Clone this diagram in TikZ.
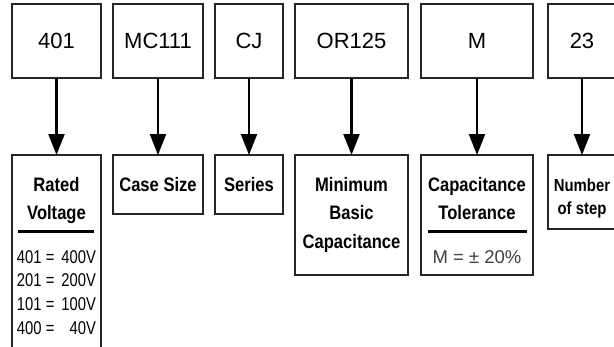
\documentclass[tikz,border=0pt]{standalone}
\usepackage{fontspec}
\setmainfont{Liberation Sans}
\newfontfamily\narrowfont[FakeStretch=0.85]{Liberation Sans}
\newfontfamily\valfamily[FakeStretch=0.8]{Liberation Sans}
\usepackage{tikz}
\usetikzlibrary{positioning}
\usetikzlibrary{graphs}
\usetikzlibrary{arrows.meta}
\tikzset{bigtip/.tip={Triangle[length=21pt,width=16pt]}}
\tikzset{
    codebox/.style={draw=black!85, line width=1.1pt, minimum height=74pt,
        inner sep=0pt, outer sep=0pt, font=\fontsize{22}{26}\selectfont},
    descbox/.style={draw=black!85, line width=1.1pt, inner sep=0pt, outer sep=0pt},
    codearrow/.style={line width=2.2pt, -bigtip}
}
\newcommand{\titlefont}{\narrowfont\bfseries\fontsize{19.5}{28.5}\selectfont}
\newcommand{\valfont}{\valfamily\mdseries\fontsize{18.5}{23.7}\selectfont}
\newcommand{\descbody}[3]{\parbox[c][#1][t]{#2}{\centering\titlefont\rule{0pt}{36pt}#3\par}}
\newcommand{\seprule}[1]{\\[-8.5pt]\rule[6.6pt]{#1}{2.5pt}\par}

\begin{document}
\begin{tikzpicture}
            \useasboundingbox (0,0) rectangle (614pt,-346pt);
            \clip (0,0) rectangle (614pt,-346pt);

            % part number fields
            \node (c1) [codebox, minimum width=89pt, anchor=north west] at (12pt,-4pt) {401};
            \node (c2) [codebox, minimum width=90pt, right=12pt of c1]  {MC111};
            \node (c3) [codebox, minimum width=68pt, right=12pt of c2]  {CJ};
            \node (c4) [codebox, minimum width=113pt, right=12pt of c3] {OR125};
            \node (c5) [codebox, minimum width=112pt, right=13pt of c4] {M};
            \node (c6) [codebox, minimum width=68pt, right=15pt of c5]  {23};

            % what each field means
            \node (d1) [descbox, below=77pt of c1] {\descbody{200pt}{89pt}{Rated\\Voltage\seprule{76pt}%
                \valfont
                \makebox[79pt][l]{401 = \hfill 400V}\\
                \makebox[79pt][l]{201 = \hfill 200V}\\
                \makebox[79pt][l]{101 = \hfill 100V}\\
                \makebox[79pt][l]{400 = \hfill 40V}}};
            \node (d2) [descbox, below=77pt of c2] {\descbody{59pt}{90pt}{Case Size}};
            \node (d3) [descbox, below=77pt of c3] {\descbody{59pt}{68pt}{Series}};
            \node (d4) [descbox, below=77pt of c4] {\descbody{120pt}{113pt}{Minimum\\Basic\\Capacitance}};
            \node (d5) [descbox, below=77pt of c5] {\descbody{120pt}{112pt}{Capacitance\\Tolerance\seprule{99pt}%
                \rmfamily\mdseries\color{black!75}\fontsize{18.5}{23.7}\selectfont M = ± 20\%}};
            \node (d6) [descbox, below=77pt of c6] {\descbody{74pt}{68pt}{\fontsize{17.5}{23.3}\selectfont Number\\of step}};

            \graph[edges={codearrow}]{
                (c1) -> (d1);
                (c2) -> (d2);
                (c3) -> (d3);
                (c4) -> (d4);
                (c5) -> (d5);
                (c6) -> (d6);
            };
        \end{tikzpicture}
\end{document}
